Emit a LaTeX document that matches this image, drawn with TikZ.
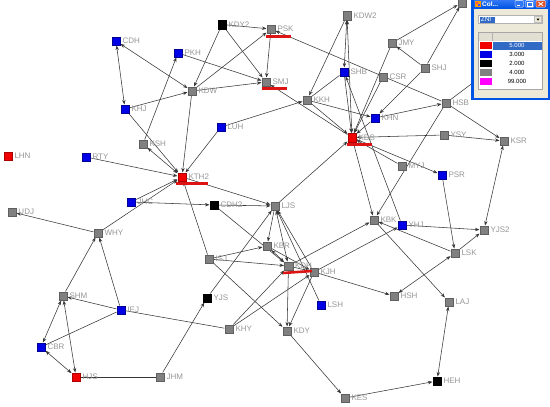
\documentclass[tikz,border=0pt]{standalone}
\usepackage{fontspec}
\setmainfont{Liberation Sans}
\usetikzlibrary{arrows.meta}
\pgfdeclarelayer{bg}
\pgfdeclarelayer{fg}
\pgfsetlayers{bg,main,fg}
\definecolor{ngray}{RGB}{128,128,128}
\definecolor{ngrayd}{RGB}{95,95,95}
\definecolor{nblue}{RGB}{0,0,230}
\definecolor{nblued}{RGB}{0,0,150}
\definecolor{nred}{RGB}{240,0,0}
\definecolor{nredd}{RGB}{170,0,0}
\definecolor{labc}{RGB}{150,150,150}
\definecolor{edgec}{RGB}{55,55,55}
\definecolor{hbar}{RGB}{220,20,20}
\definecolor{winbg}{RGB}{236,233,216}
\definecolor{xpblue}{RGB}{0,84,227}
\definecolor{xpblue2}{RGB}{50,120,245}
\definecolor{selblue}{RGB}{49,106,197}
\definecolor{hdrgray}{RGB}{225,222,210}
\definecolor{nmag}{RGB}{255,0,255}
\definecolor{closer}{RGB}{225,85,45}
\tikzset{
 nd/.style={rectangle, minimum width=8.5pt, minimum height=8.5pt, inner sep=0pt, line width=0.5pt},
 gnode/.style={nd, fill=ngray, draw=ngrayd},
 bnode/.style={nd, fill=nblue, draw=nblued},
 rnode/.style={nd, fill=nred, draw=nredd},
 knode/.style={nd, fill=black, draw=black},
 lab/.style={text=labc, font=\fontsize{8}{9}\selectfont, inner sep=0pt},
 ed/.style={draw=edgec, line width=0.55pt},
 hl/.style={draw=hbar, line width=2.6pt},
 wintext/.style={font=\fontsize{6}{7}\selectfont, inner sep=0pt},
}
\begin{document}
\begin{tikzpicture}[x=1pt,y=-1pt,label distance=1.8pt,>={Stealth[length=4.5pt,width=3.4pt]}]
\useasboundingbox (0,0) rectangle (550,407);
\begin{pgfonlayer}{bg}
\fill[white] (0,0) rectangle (550,407);
\end{pgfonlayer}
% nodes
\node[bnode,label={[lab]right:CDH}] (CDH) at (116,41) {};
\node[bnode,label={[lab]right:PKH}] (PKH) at (178,53) {};
\node[knode,label={[lab]right:KDY2}] (KDY2) at (222,24.5) {};
\node[gnode,label={[lab]right:PSK}] (PSK) at (271,29) {};
\node[gnode,label={[lab]right:KDW2}] (KDW2) at (347,15.5) {};
\node[gnode] (TOP) at (462,2.5) {};
\node[gnode,label={[lab]right:JMY}] (JMY) at (392,43) {};
\node[gnode,label={[lab]right:SHJ}] (SHJ) at (425,68) {};
\node[gnode,label={[lab]right:SMJ}] (SMJ) at (266,82) {};
\node[gnode,label={[lab]right:KDW}] (KDW) at (192,91) {};
\node[bnode,label={[lab]right:KHJ}] (KHJ) at (125,109) {};
\node[bnode,label={[lab]right:SHB}] (SHB) at (344,72) {};
\node[gnode,label={[lab]right:CSR}] (CSR) at (383,77) {};
\node[gnode,label={[lab]right:KKH}] (KKH) at (307,100) {};
\node[bnode,label={[lab]right:KHN}] (KHN) at (375,118) {};
\node[gnode,label={[lab]right:HSB}] (HSB) at (446,103) {};
\node[bnode,label={[lab]right:LUH}] (LUH) at (221,127) {};
\node[gnode,label={[lab]right:KSH}] (KSH) at (143,144) {};
\node[rnode,label={[lab]right:KDS}] (KDS) at (352,137.5) {};
\node[gnode,label={[lab]right:YSY}] (YSY) at (444,135) {};
\node[gnode,label={[lab]right:KSR}] (KSR) at (504,141) {};
\node[rnode,label={[lab]right:LHN}] (LHN) at (8,156) {};
\node[bnode,label={[lab]right:RTY}] (RTY) at (86,157) {};
\node[rnode,label={[lab]right:KTH2}] (KTH2) at (182,177) {};
\node[gnode,label={[lab]right:MYJ}] (MYJ) at (402,166) {};
\node[bnode,label={[lab]right:PSR}] (PSR) at (442,175) {};
\node[bnode,label={[lab]right:JHC}] (JHC) at (131,202) {};
\node[knode,label={[lab]right:CDH2}] (CDH2) at (214,205) {};
\node[gnode,label={[lab]right:LJS}] (LJS) at (275,206) {};
\node[gnode,label={[lab]right:UDJ}] (UDJ) at (12,212) {};
\node[gnode,label={[lab]right:WHY}] (WHY) at (98,233) {};
\node[gnode,label={[lab]right:KBK}] (KBK) at (374,220) {};
\node[bnode,label={[lab]right:YHJ}] (YHJ) at (402,225) {};
\node[gnode,label={[lab]right:YJS2}] (YJS2) at (484,230) {};
\node[gnode,label={[lab]right:KBR}] (KBR) at (267,246) {};
\node[gnode,label={[lab]right:LSK}] (LSK) at (455,253) {};
\node[gnode,label={[lab]right:ISJ}] (ISJ) at (209,259) {};
\node[gnode,label={[lab]right:KDH}] (KDH) at (288.5,266) {};
\node[gnode,label={[lab]right:KJH}] (KJH) at (314,272) {};
\node[gnode,label={[lab]right:HSH}] (HSH) at (394,296) {};
\node[gnode,label={[lab]right:LAJ}] (LAJ) at (449,302) {};
\node[gnode,label={[lab]right:SHM}] (SHM) at (63,296) {};
\node[bnode,label={[lab]right:IEJ}] (IEJ) at (121,310) {};
\node[knode,label={[lab]right:YJS}] (YJS) at (207,298) {};
\node[bnode,label={[lab]right:LSH}] (LSH) at (321,305) {};
\node[gnode,label={[lab]right:KHY}] (KHY) at (229,329) {};
\node[gnode,label={[lab]right:KDY}] (KDY) at (287,331) {};
\node[bnode,label={[lab]right:CBR}] (CBR) at (41,347) {};
\node[rnode,label={[lab]right:HJS}] (HJS) at (76,377) {};
\node[gnode,label={[lab]right:JHM}] (JHM) at (160,377) {};
\node[gnode,label={[lab]right:KES}] (KES) at (345,398) {};
\node[knode,label={[lab]right:HEH}] (HEH) at (437,381) {};
\coordinate (hid) at (510,55);
% highlight bars
\draw[hl] (266,36.7) -- (291,36.7);
\draw[hl] (262,88.5) -- (287,88.5);
\draw[hl] (176,183.5) -- (208,183.5);
\draw[hl] (347,144.5) -- (372,144.5);
\draw[hl] (283,273) -- (312,271);
% edges
\begin{pgfonlayer}{bg}
\draw[ed,<->] (CDH) -- (KHJ);
\draw[ed,<->] (CDH) -- (KDW);
\draw[ed,->] (KHJ) -- (KDW);
\draw[ed,->] (KHJ) -- (KTH2);
\draw[ed,->] (KSH) -- (PKH);
\draw[ed,<->] (KSH) -- (KTH2);
\draw[ed,->] (KDW) -- (KTH2);
\draw[ed,->] (KDY2) -- (KDW);
\draw[ed,->] (KDY2) -- (PSK);
\draw[ed,->] (KDY2) -- (SMJ);
\draw[ed,->] (KDW) -- (PSK);
\draw[ed,->] (PSK) -- (SMJ);
\draw[ed,->] (PKH) -- (SMJ);
\draw[ed,->] (KDW) -- (SMJ);
\draw[ed,->] (KDS) -- (SMJ);
\draw[ed,->] (HSB) -- (PSK);
\draw[ed,->] (LUH) -- (KKH);
\draw[ed,->] (LUH) -- (KTH2);
\draw[ed,->] (RTY) -- (KTH2);
\draw[ed,->] (JHC) -- (KTH2);
\draw[ed,->] (WHY) -- (KTH2);
\draw[ed,->] (JHC) -- (CDH2);
\draw[ed,->] (CDH2) -- (LJS);
\draw[ed,->] (KTH2) -- (LJS);
\draw[ed,->] (ISJ) -- (KTH2);
\draw[ed,->] (CDH2) -- (KDH);
\draw[ed,->] (LJS) -- (KBR);
\draw[ed,->] (LJS) -- (KDS);
\draw[ed,<->] (KDH) -- (LJS);
\draw[ed,->] (KJH) -- (LJS);
\draw[ed,->] (LSH) -- (LJS);
\draw[ed,->] (YJS) -- (LJS);
\draw[ed,->] (JHM) -- (YJS);
\draw[ed,->] (ISJ) -- (KBR);
\draw[ed,->] (ISJ) -- (KDH);
\draw[ed,->] (ISJ) -- (KDY);
\draw[ed,<->] (KBR) -- (KDH);
\draw[ed,->] (KBR) -- (KJH);
\draw[ed,->] (KDH) -- (KJH);
\draw[ed,->] (KDH) -- (KDY);
\draw[ed,->] (KJH) -- (KDY);
\draw[ed,->] (KHY) -- (KDH);
\draw[ed,->] (KHY) -- (KJH);
\draw[ed] (IEJ) -- (KHY);
\draw[ed,->] (KDY) -- (KES);
\draw[ed,->] (KES) -- (HEH);
\draw[ed,<->] (LAJ) -- (HEH);
\draw[ed,->] (KBK) -- (LAJ);
\draw[ed,->] (KJH) -- (HSH);
\draw[ed,<->] (HSH) -- (LSK);
\draw[ed,->] (LSK) -- (KBK);
\draw[ed,->] (PSR) -- (LSK);
\draw[ed,->] (LSK) -- (YJS2);
\draw[ed,->] (YHJ) -- (YJS2);
\draw[ed,<->] (YJS2) -- (KSR);
\draw[ed,->] (YSY) -- (KSR);
\draw[ed,->] (HSB) -- (KSR);
\draw[ed,->] (YSY) -- (KDS);
\draw[ed,->] (MYJ) -- (KDS);
\draw[ed,->] (KDS) -- (PSR);
\draw[ed,->] (HSB) -- (KBK);
\draw[ed,->] (KHN) -- (HSB);
\draw[ed,->] (KKH) -- (KHN);
\draw[ed,->] (KKH) -- (KDS);
\draw[ed] (KKH) -- (SHB);
\draw[ed,->] (KDW2) -- (KKH);
\draw[ed,<->] (KDW2) -- (SHB);
\draw[ed,<->] (KDW2) -- (KDS);
\draw[ed,->] (SHB) -- (KDS);
\draw[ed,->] (JMY) -- (TOP);
\draw[ed,->] (SHJ) -- (TOP);
\draw[ed,->] (SHJ) -- (JMY);
\draw[ed,->] (JMY) -- (KDS);
\draw[ed,->] (CSR) -- (KDS);
\draw[ed,->] (SHJ) -- (KHN);
\draw[ed,->] (KHN) -- (KDS);
\draw[ed,->] (YHJ) -- (SHB);
\draw[ed,->] (KDS) -- (KBK);
\draw[ed,->] (KDH) -- (KBK);
\draw[ed,->] (KJH) -- (YHJ);
\draw[ed] (HSB) -- (hid);
\draw[ed,->] (WHY) -- (UDJ);
\draw[ed,->] (SHM) -- (WHY);
\draw[ed,->] (IEJ) -- (WHY);
\draw[ed,<->] (SHM) -- (CBR);
\draw[ed,<->] (SHM) -- (HJS);
\draw[ed,<->] (CBR) -- (HJS);
\draw[ed] (IEJ) -- (CBR);
\draw[ed,->] (IEJ) -- (SHM);
\draw[ed] (HJS) -- (JHM);
\end{pgfonlayer}
% legend window
\begin{pgfonlayer}{fg}
\fill[winbg] (471,0) rectangle (550,100);
\shade[top color=xpblue2, bottom color=xpblue] (471,0) rectangle (550,8);
\fill[xpblue] (471,0) rectangle (473.5,100);
\fill[xpblue] (471,97.5) rectangle (550,100);
\fill[xpblue] (547.5,0) rectangle (550,100);
\fill[orange!80!yellow] (475,1.2) rectangle (480.5,6.5);
\fill[red!70] (476,2.2) rectangle (478,4);
\fill[blue!70] (478.3,3.8) rectangle (480,5.8);
\node[wintext, text=white, anchor=west, font=\bfseries\fontsize{6.5}{7}\selectfont] (wtitle) at (482,3.8) {Col...};
\draw[white, fill=xpblue2, line width=0.4pt, rounded corners=0.8pt] (515,0.6) rectangle (523.5,7.2);
\draw[white, line width=0.8pt] (517,5.6) -- (520,5.6);
\draw[white, fill=xpblue2, line width=0.4pt, rounded corners=0.8pt] (525.5,0.6) rectangle (534,7.2);
\draw[white, line width=0.5pt] (527.5,2.2) rectangle (532,5.8);
\draw[white, fill=closer, line width=0.4pt, rounded corners=0.8pt] (536,0.6) rectangle (545.5,7.2);
\draw[white, line width=0.8pt] (538.5,2.2) -- (543,5.8) (538.5,5.8) -- (543,2.2);
% dropdown
\draw[fill=white, draw=gray!60, line width=0.4pt] (478.5,15.5) rectangle (542.5,23.5);
\fill[selblue] (480,16.5) rectangle (495,22.5);
\node[wintext, text=white, anchor=west, font=\fontsize{6.5}{7}\selectfont] (zni) at (480.6,19.6) {ZNI};
\draw[fill=winbg, draw=gray!50, line width=0.3pt] (534.5,16.5) rectangle (541.5,22.5);
\fill[black] (536.5,18.6) -- (539.5,18.6) -- (538,20.6) -- cycle;
% table
\draw[fill=white, draw=gray!70, line width=0.4pt] (478.5,32.5) rectangle (542.5,89.5);
\fill[hdrgray] (479,33) rectangle (542,41);
\draw[gray!60, line width=0.4pt] (492.5,33) -- (492.5,41);
\fill[selblue] (493,41.5) rectangle (542,49.8);
\foreach \i/\c/\v/\t in {0/nred/5.000/white, 1/nblue/3.000/black, 2/black/2.000/black, 3/ngray/4.000/black, 4/nmag/99.000/black} {
  \pgfmathsetmacro\yy{41+9*\i}
  \fill[\c] (480,\yy+1) rectangle (491.5,\yy+8);
  \node[wintext, text=\t] (val\i) at (517,\yy+4.7) {\v};
}
\end{pgfonlayer}
\end{tikzpicture}
\end{document}
